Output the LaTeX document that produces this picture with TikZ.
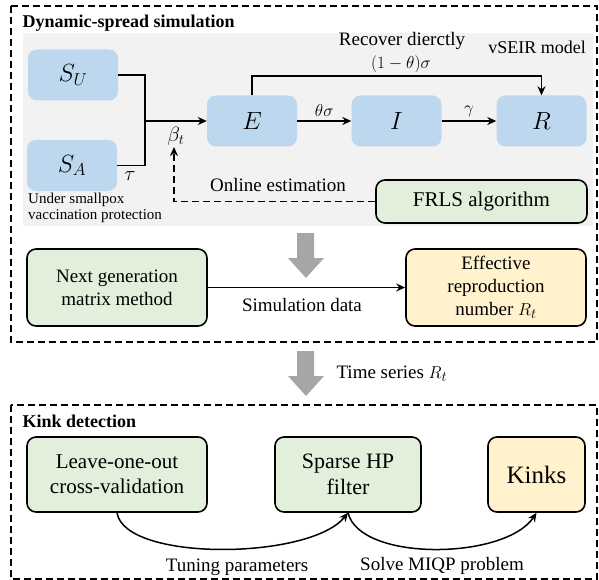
\documentclass[tikz,border=0pt]{standalone}
\usepackage{fontspec}
\setmainfont{Liberation Serif}
\usetikzlibrary{arrows.meta,positioning}
\definecolor{seirblue}{HTML}{BDD7EE}
\definecolor{algogreen}{HTML}{E2EFDA}
\definecolor{resyellow}{HTML}{FFF2CC}
\definecolor{bggray}{HTML}{F2F2F2}
\definecolor{arrowgray}{HTML}{A6A6A6}
\tikzset{
  comp/.style={rounded corners=9pt,fill=seirblue,minimum width=90pt,minimum height=51pt,font=\fontsize{24}{26}\selectfont},
  algo/.style={rounded corners=9pt,draw,line width=1.6pt,fill=algogreen,align=center,inner sep=2pt,font=\fontsize{19}{23}\selectfont},
  res/.style={algo,fill=resyellow},
  flow/.style={-{Stealth[length=9pt,width=8pt]},line width=1.5pt},
  lbl/.style={font=\fontsize{19}{22}\selectfont},
  ttl/.style={anchor=west,font=\fontsize{18}{21}\selectfont\bfseries},
  frame/.style={dashed,line width=1.2pt,dash pattern=on 7pt off 4pt}
}
\begin{document}
\begin{tikzpicture}[x=1pt,y=-1pt]
\useasboundingbox(0,0)rectangle(599,580);
% simulation part
\draw[frame](11,6)rectangle(597,342);
\fill[bggray](23,33)rectangle(593,226);
\node[ttl](t1)at(19,23){Dynamic-spread simulation};
\node[comp](su)at(73,75){$S_U$};
\node[comp](sa)at(72,165.5){$S_A$};
\node[comp](e)at(252,121){$E$};
\node[comp](i)at(396.5,121){$I$};
\node[comp](r)at(541.5,121){$R$};
\node[algo,minimum width=211pt,minimum height=43pt,font=\fontsize{21}{24}\selectfont](frls)at(481.5,201.5){FRLS algorithm};
\node[anchor=north west,align=left,inner sep=0pt,font=\fontsize{15}{16}\selectfont](prot)at(28,193){Under smallpox\\vaccination protection};
\node[lbl,font=\fontsize{18}{21}\selectfont](vseir)at(537,47){vSEIR model};
\coordinate(mrg)at(145,121);
\coordinate(est)at(174,147);
\coordinate(top)at(400,76);
\draw[line width=1.5pt](su.east)-|(mrg);
\draw[line width=1.5pt](sa.east)-|(mrg);
\draw[flow](mrg)--(e.west);
\node[font=\fontsize{20}{22}\selectfont](tau)at(130,176){$\tau$};
\node[font=\fontsize{20}{22}\selectfont](beta)at(176,136){$\beta_t$};
\draw[flow,dashed,dash pattern=on 7pt off 4pt](frls.west)-|(est);
\node[lbl](online)at(278,185){Online estimation};
\draw[flow](e.north)|-(top)-|(r.north);
\node[lbl](rec)at(402,41){Recover dierctly};
\node[font=\fontsize{19}{22}\selectfont](rsig)at(401,64){$(1-\theta)\sigma$};
\draw[flow](e)--node[above=0pt,font=\fontsize{19}{22}\selectfont]{$\theta\sigma$}(i);
\draw[flow](i)--node[above=0pt,font=\fontsize{19}{22}\selectfont]{$\gamma$}(r);
% reproduction number
\foreach\y in{233,351}{
\fill[arrowgray](297,\y)--(314,\y)--(314,\y+25)--(324,\y+25)--(306,\y+45)--(288,\y+25)--(297,\y+25)--cycle;}
\node[algo,minimum width=180pt,minimum height=77pt](ngm)at(117,287.5){Next generation\\matrix method};
\node[res,minimum width=180pt,minimum height=77pt](rt)at(496,287.5){Effective\\reproduction\\number $R_t$};
\draw[flow](ngm)--(rt);
\node[lbl](sim)at(302,305){Simulation data};
\node[lbl,anchor=west](ts)at(333,374){Time series $R_t$};
% kink detection
\draw[frame](11,405)rectangle(597,579);
\node[ttl](t2)at(19,421){Kink detection};
\node[algo,minimum width=180pt,minimum height=75pt,font=\fontsize{21}{25}\selectfont](loo)at(117,474.5){Leave-one-out\\cross-validation};
\node[algo,minimum width=146pt,minimum height=75pt,font=\fontsize{22}{26}\selectfont](shp)at(348,474.5){Sparse HP\\filter};
\node[res,minimum width=97pt,minimum height=75pt,font=\fontsize{25}{28}\selectfont](kinks)at(536.5,474.5){Kinks};
\draw[flow](loo.south)..controls(125,562)and(310,560)..(shp.south);
\draw[flow](shp.south)..controls(360,562)and(505,560)..(kinks.south);
\node[lbl](tune)at(237,567){Tuning parameters};
\node[lbl](miqp)at(442,566){Solve MIQP problem};
\end{tikzpicture}
\end{document}
